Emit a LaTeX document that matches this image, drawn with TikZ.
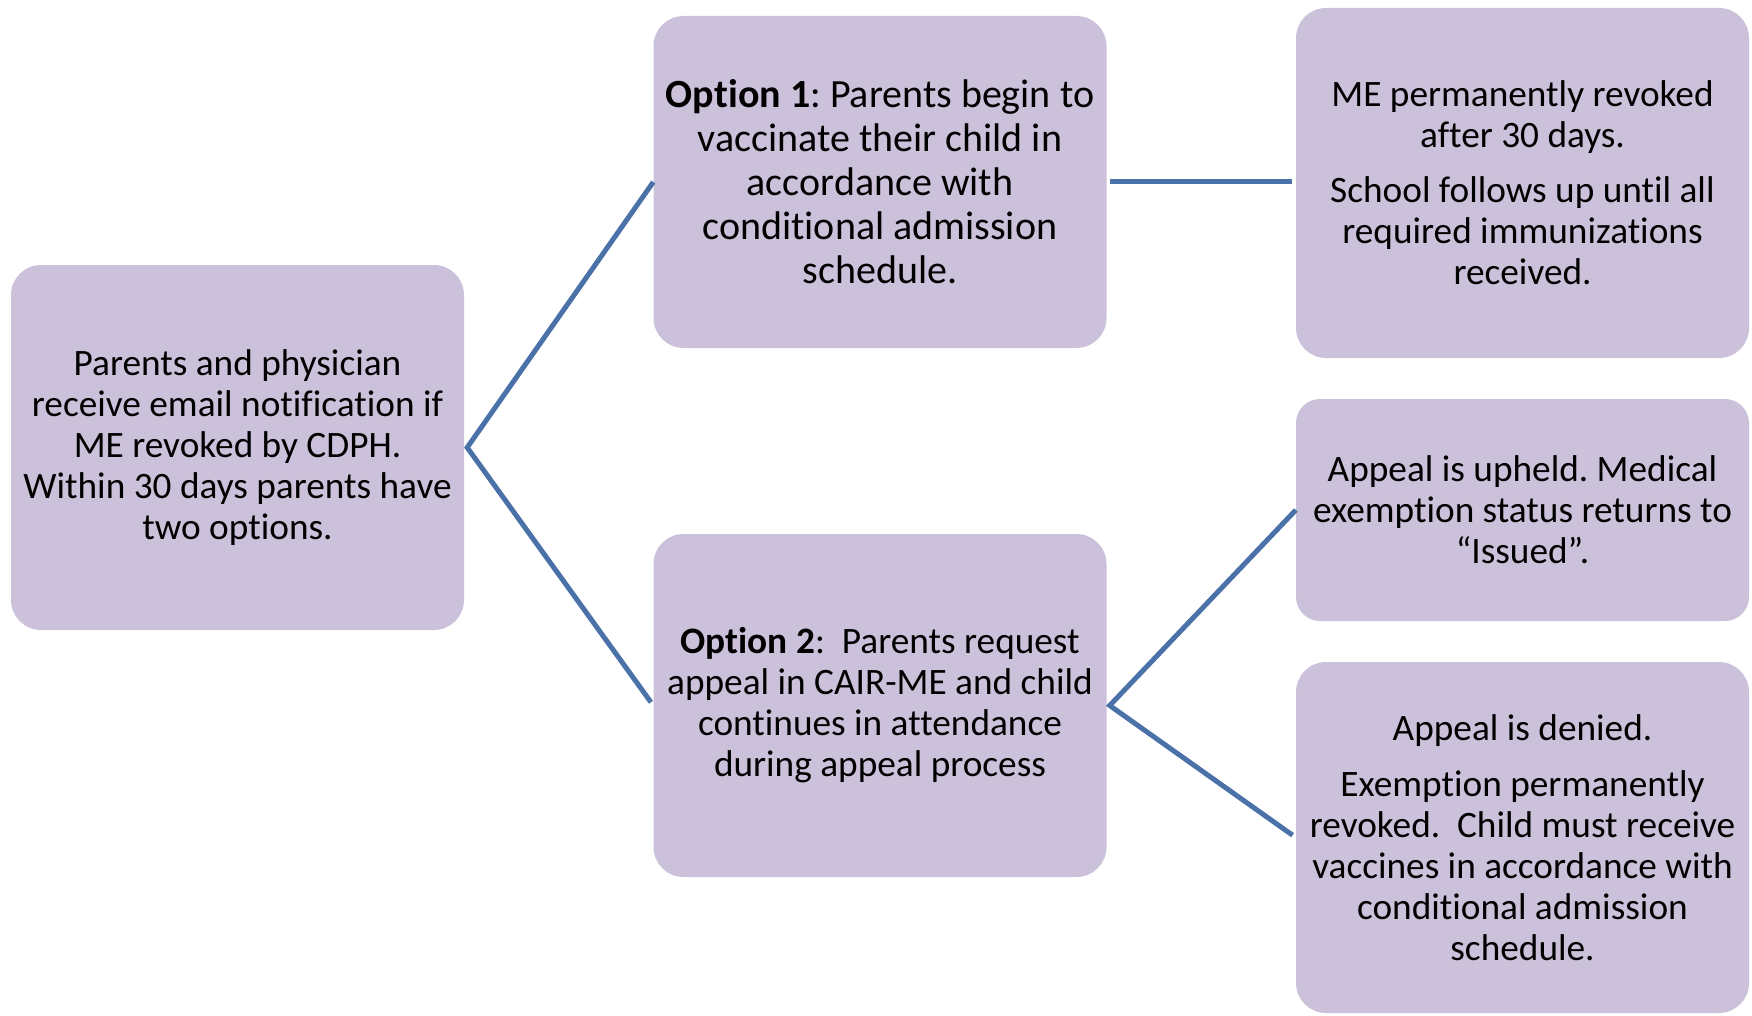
\documentclass[tikz,border=0pt]{standalone}
\usepackage{fontspec}
\setmainfont{Carlito}[Ligatures=NoCommon]
\usepackage{tikz}
\frenchspacing
\definecolor{boxfill}{HTML}{CCC1DA}
\definecolor{linkblue}{HTML}{4A72A8}
\tikzset{
  stepbox/.style={rectangle, rounded corners=30pt, fill=boxfill, inner sep=0pt,
    align=center, minimum width=453pt, font=\fontsize{37.3}{41}\selectfont},
  link/.style={linkblue, line width=5pt, shorten >=4pt}
}

\begin{document}
\begin{tikzpicture}[x=1pt,y=-1pt]
  \useasboundingbox (0,0) rectangle (1752,1016);                                   % page size
  % first column
  \node[stepbox, minimum height=365pt] (start) at (237.5,447.5)
    {Parents and physician\\receive email notification if\\ME revoked by CDPH.\\Within 30 days parents have\\two options.};
  % second column
  \node[stepbox, minimum height=332pt, font=\fontsize{40}{44}\selectfont] (opt1) at (880,182)
    {\textbf{Option 1}: Parents begin to\\vaccinate their child in\\accordance with\\conditional admission\\schedule.};
  \node[stepbox, minimum height=343pt] (opt2) at (880,705.5)
    {\textbf{Option 2}:\ \ Parents request\\appeal in CAIR-ME and child\\continues in attendance\\during appeal process};
  % third column
  \node[stepbox, minimum height=350pt] (revoked) at (1522.5,183)
    {ME permanently revoked\\after 30 days.\\[14pt]School follows up until all\\required immunizations\\received.};
  \node[stepbox, minimum height=222pt, rounded corners=24pt] (upheld) at (1522.5,510)
    {Appeal is upheld. Medical\\exemption status returns to\\“Issued”.};
  \node[stepbox, minimum height=351pt] (denied) at (1522.5,837.5)
    {Appeal is denied.\\[15pt]Exemption permanently\\revoked.\ \ Child must receive\\vaccines in accordance with\\conditional admission\\schedule.};
  % connectors
  \draw[link] (opt1.west) -- ([xshift=3pt]start.east) -- (opt2.west);
  \draw[link, shorten <=3pt] (opt1.east) -- (opt1.east -| revoked.west);
  \draw[link] (upheld.west) -- ([xshift=3pt]opt2.east) -- (denied.west);
\end{tikzpicture}
\end{document}
